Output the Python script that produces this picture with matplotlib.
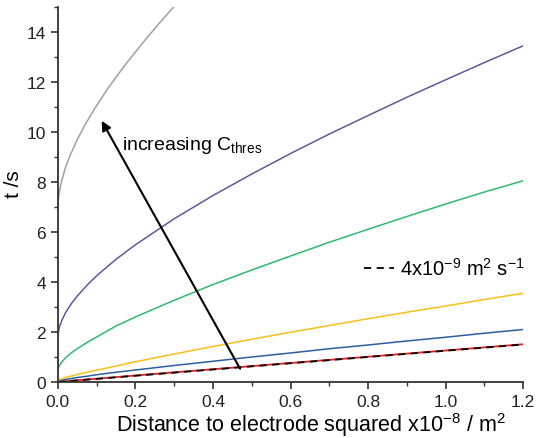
import matplotlib
matplotlib.use("Agg")
import matplotlib.pyplot as plt
from matplotlib.ticker import MultipleLocator

plt.rcParams['font.family'] = ['Liberation Sans', 'DejaVu Sans']
plt.rcParams['mathtext.fontset'] = 'custom'
plt.rcParams['mathtext.rm'] = 'Liberation Sans'
plt.rcParams['mathtext.it'] = 'Liberation Sans:italic'

x_pts = [0, 0.002, 0.005, 0.01, 0.02, 0.035, 0.05, 0.075, 0.1, 0.15, 0.2,
         0.3, 0.4, 0.5, 0.6, 0.7, 0.8, 0.9, 1.0, 1.1, 1.2]

# times in s
t_purple = [1.75, 2.06, 2.25, 2.46, 2.78, 3.14, 3.44, 3.87, 4.25, 4.91, 5.49,
            6.53, 7.46, 8.32, 9.14, 9.92, 10.66, 11.39, 12.09, 12.78, 13.45]
t_green = [0.45, 0.60, 0.69, 0.80, 0.97, 1.17, 1.33, 1.58, 1.80, 2.24, 2.60,
           3.27, 3.90, 4.48, 5.04, 5.59, 6.11, 6.62, 7.12, 7.60, 8.05]
t_yellow = [0.05, 0.08, 0.10, 0.13, 0.18, 0.24, 0.30, 0.39, 0.47, 0.64, 0.81,
            1.12, 1.42, 1.71, 1.99, 2.26, 2.53, 2.79, 3.04, 3.30, 3.55]
t_blue = [0.0, 0.025, 0.04, 0.06, 0.10, 0.14, 0.18, 0.23, 0.29, 0.39, 0.48,
          0.66, 0.83, 1.0, 1.16, 1.33, 1.48, 1.64, 1.79, 1.95, 2.10]
t_red = [0.0, 0.004, 0.009, 0.016, 0.03, 0.05, 0.07, 0.10, 0.13, 0.195, 0.26,
         0.385, 0.51, 0.635, 0.76, 0.885, 1.01, 1.135, 1.26, 1.385, 1.51]
t_dash = [0.0, 0.0025, 0.006, 0.0125, 0.025, 0.044, 0.0625, 0.094, 0.125,
          0.1875, 0.25, 0.375, 0.5, 0.625, 0.75, 0.875, 1.0, 1.125, 1.25,
          1.375, 1.5]

# grey curve runs off the top early, so it has its own points
x_gray = [0, 0.001, 0.003, 0.006, 0.01, 0.02, 0.031, 0.05, 0.07, 0.095,
          0.13, 0.173, 0.22, 0.263, 0.31]
t_gray = [6.9, 7.25, 7.52, 7.78, 8.06, 8.6, 9.05, 9.7, 10.29, 10.94,
          11.77, 12.68, 13.59, 14.38, 15.2]

fig = plt.figure(figsize=(5.36, 4.39), dpi=100)
ax = fig.add_axes([0.108, 0.1276, 0.868, 0.854])

ax.plot(x_gray, t_gray, color='#a0a0a0', lw=1.1)
ax.plot(x_pts, t_purple, color='#5a5aa0', lw=1.1)
ax.plot(x_pts, t_green, color='#2fb870', lw=1.1)
ax.plot(x_pts, t_yellow, color='#f5c01a', lw=1.1)
ax.plot(x_pts, t_blue, color='#2e5e9e', lw=1.1)
ax.plot(x_pts, t_red, color='#e02020', lw=1.3)
ax.plot(x_pts, t_dash, color='black', lw=1.3, ls=(0, (4, 3)),
        label=r'4x10$^{-9}$ m$^{2}$ s$^{-1}$')

ax.annotate('', xy=(0.113, 10.45), xytext=(0.47, 0.53),
            arrowprops=dict(arrowstyle='-|>', color='black', lw=1.5,
                            mutation_scale=14, shrinkA=0, shrinkB=0))
ax.text(0.165, 9.5, r'increasing C$_{\mathrm{thres}}$', fontsize=14,
        va='center', ha='left')

ax.legend(loc='center', bbox_to_anchor=(0.83, 0.305), frameon=False,
          fontsize=14.5, handlelength=1.5, handletextpad=0.3)

ax.set_xlim(0, 1.2)
ax.set_ylim(0, 15)
ax.xaxis.set_minor_locator(MultipleLocator(0.1))
ax.yaxis.set_major_locator(MultipleLocator(2))
ax.yaxis.set_minor_locator(MultipleLocator(1))
ax.set_xticks([0, 0.2, 0.4, 0.6, 0.8, 1.0, 1.2])
ax.set_xticklabels(['0.0', '0.2', '0.4', '0.6', '0.8', '1.0', '1.2'])

for side in ['top', 'right']:
    ax.spines[side].set_visible(False)
for side in ['left', 'bottom']:
    ax.spines[side].set_linewidth(1.3)
    ax.spines[side].set_color('#333333')

ax.tick_params(which='major', direction='out', length=5, width=1.2,
               labelsize=12.5, colors='#333333', labelcolor='#222222')
ax.tick_params(which='minor', direction='out', length=3, width=1.0,
               colors='#333333')

ax.set_xlabel(r'Distance to electrode squared x10$^{-8}$ / m$^{2}$',
              fontsize=15.5)
ax.xaxis.set_label_coords(0.545, -0.074)
ax.set_ylabel('t /s', fontsize=15)
ax.yaxis.set_label_coords(-0.076, 0.53)

fig.savefig('out.png', dpi=100)
